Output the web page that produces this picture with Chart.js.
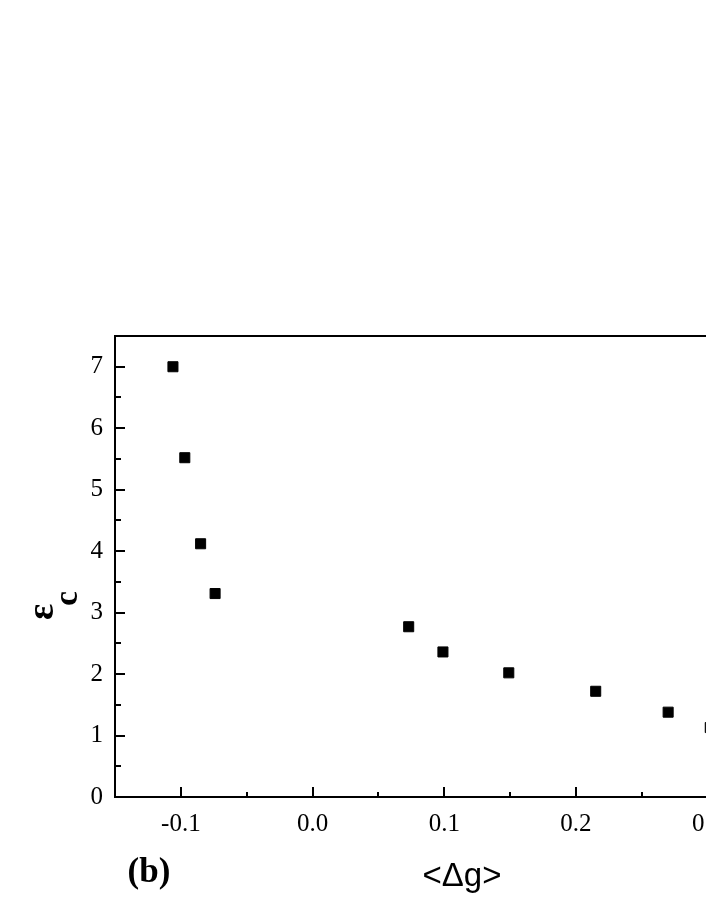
<!DOCTYPE html>
<html>
<head>
<meta charset="utf-8">
<script src="https://cdn.jsdelivr.net/npm/chart.js@4"></script>
<style>
html,body{margin:0;padding:0;background:#fff;overflow:hidden;width:706px;height:913px;}
#wrap{position:absolute;left:0;top:0;width:800px;height:913px;}
</style>
</head>
<body>
<div id="wrap"><canvas id="c" width="800" height="913"></canvas></div>
<script>
// Data
const deltaG = [-0.106, -0.097, -0.085, -0.074, 0.073, 0.099, 0.149, 0.215, 0.270, 0.302];
const epsC   = [7.00, 5.52, 4.12, 3.31, 2.77, 2.36, 2.02, 1.72, 1.38, 1.13];
const xTickValues = [-0.1, 0.0, 0.1, 0.2, 0.3];
const xTickLabels = ['-0.1', '0.0', '0.1', '0.2', '0.3'];
const yTickValues = [0, 1, 2, 3, 4, 5, 6, 7];
const yTickLabels = ['0', '1', '2', '3', '4', '5', '6', '7'];
const xMinorValues = [-0.15, -0.05, 0.05, 0.15, 0.25, 0.35];
const yMinorValues = [0.5, 1.5, 2.5, 3.5, 4.5, 5.5, 6.5];
const xTitle = '<Δg>';
const panelLabel = '(b)';
const yTitleMain = 'ε';
const yTitleSub = 'c';

const points = deltaG.map((x, i) => ({x: x, y: epsC[i]}));

const framePlugin = {
  id: 'frame',
  afterDraw(chart) {
    const ctx = chart.ctx;
    const a = chart.chartArea;
    const xs = chart.scales.x, ys = chart.scales.y;
    ctx.save();
    ctx.strokeStyle = '#000';
    ctx.lineWidth = 2;
    ctx.strokeRect(a.left, a.top, a.right - a.left, a.bottom - a.top);
    ctx.beginPath();
    xTickValues.forEach(v => {
      const p = Math.round(xs.getPixelForValue(v));
      ctx.moveTo(p, a.bottom); ctx.lineTo(p, a.bottom - 10);
    });
    xMinorValues.forEach(v => {
      const p = Math.round(xs.getPixelForValue(v));
      ctx.moveTo(p, a.bottom); ctx.lineTo(p, a.bottom - 5);
    });
    yTickValues.forEach(v => {
      const p = Math.round(ys.getPixelForValue(v));
      ctx.moveTo(a.left, p); ctx.lineTo(a.left + 10, p);
    });
    yMinorValues.forEach(v => {
      const p = Math.round(ys.getPixelForValue(v));
      ctx.moveTo(a.left, p); ctx.lineTo(a.left + 6, p);
    });
    ctx.stroke();

    // axis titles
    ctx.fillStyle = '#000';
    ctx.textBaseline = 'alphabetic';
    ctx.textAlign = 'center';
    ctx.font = '33px "Liberation Sans", Arial, sans-serif';
    ctx.fillText(xTitle, 462, 886);
    ctx.font = 'bold 35px "Liberation Serif", "Times New Roman", serif';
    ctx.fillText(panelLabel, 149, 882);

    ctx.translate(53, 620);
    ctx.rotate(-Math.PI / 2);
    ctx.textAlign = 'left';
    ctx.font = 'bold 38px "Liberation Serif", "Times New Roman", serif';
    ctx.fillText(yTitleMain, 0, 0);
    const w = ctx.measureText(yTitleMain).width;
    ctx.font = 'bold 33px "Liberation Serif", "Times New Roman", serif';
    ctx.fillText(yTitleSub, w - 2, 24);
    ctx.restore();
  }
};

new Chart(document.getElementById('c'), {
  type: 'scatter',
  data: {
    datasets: [{
      data: points,
      pointStyle: 'rect',
      pointRadius: 7.1,
      pointHoverRadius: 7.1,
      backgroundColor: '#000',
      borderColor: '#000',
      borderWidth: 1
    }]
  },
  options: {
    responsive: false,
    animation: false,
    events: [],
    layout: {padding: {left: 0, top: 336, right: 26.5, bottom: 0}},
    plugins: {legend: {display: false}, tooltip: {enabled: false}},
    scales: {
      x: {
        type: 'linear',
        min: -0.15,
        max: 0.35,
        grid: {display: false, drawTicks: false},
        border: {display: false},
        afterBuildTicks: s => { s.ticks = xTickValues.map(v => ({value: v})); },
        afterFit: s => { s.height = 116; },
        ticks: {
          padding: 12,
          color: '#000',
          maxRotation: 0,
          autoSkip: false,
          font: {family: '"Liberation Serif", "Times New Roman", serif', size: 25},
          callback: (v) => { const i = xTickValues.findIndex(t => Math.abs(t - v) < 1e-9); return i >= 0 ? xTickLabels[i] : ''; }
        }
      },
      y: {
        type: 'linear',
        min: 0,
        max: 7.5,
        grid: {display: false, drawTicks: false},
        border: {display: false},
        afterBuildTicks: s => { s.ticks = yTickValues.map(v => ({value: v})); },
        afterFit: s => { s.width = 115; },
        ticks: {
          padding: 12,
          color: '#000',
          autoSkip: false,
          font: {family: '"Liberation Serif", "Times New Roman", serif', size: 25},
          callback: (v) => { const i = yTickValues.findIndex(t => Math.abs(t - v) < 1e-9); return i >= 0 ? yTickLabels[i] : ''; }
        }
      }
    }
  },
  plugins: [framePlugin]
});
</script>
</body>
</html>
